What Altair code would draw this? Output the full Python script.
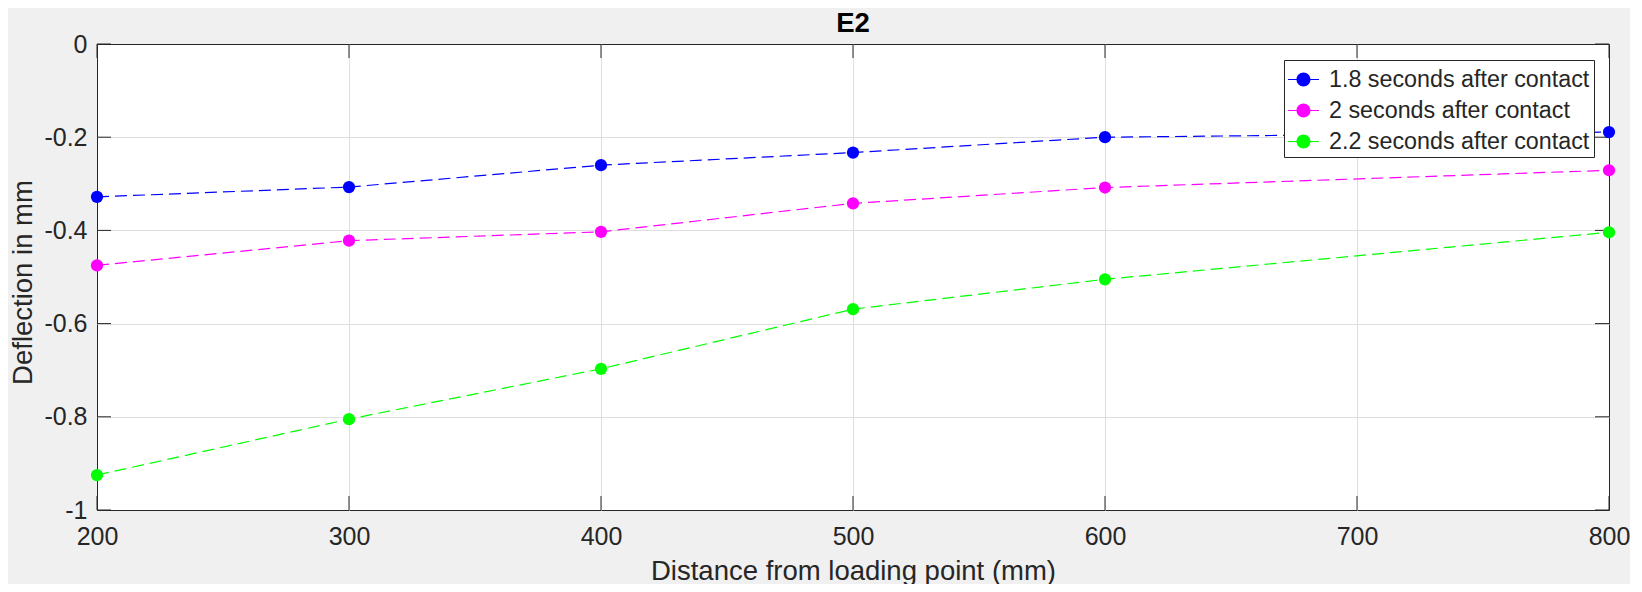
import altair as alt
import pandas as pd

# ---- data ----
chart_title = "E2"
distance = [200, 300, 400, 500, 600, 800]
series_names = ["1.8 seconds after contact", "2 seconds after contact", "2.2 seconds after contact"]
defl_1_8 = [-0.328, -0.307, -0.260, -0.233, -0.200, -0.189]
defl_2_0 = [-0.475, -0.422, -0.403, -0.342, -0.308, -0.271]
defl_2_2 = [-0.925, -0.805, -0.697, -0.569, -0.505, -0.404]
series_colors = ["#0000ff", "#ff00ff", "#00ff00"]
x_ticks = [200, 300, 400, 500, 600, 700, 800]
y_ticks = [0, -0.2, -0.4, -0.6, -0.8, -1]

rows = []
for name, vals in zip(series_names, [defl_1_8, defl_2_0, defl_2_2]):
    for d, v in zip(distance, vals):
        rows.append({"distance": d, "deflection": v, "series": name})
df = pd.DataFrame(rows)
xt = pd.DataFrame({"distance": x_ticks})
yt = pd.DataFrame({"deflection": y_ticks})

W, H = 1512, 466
FONT = "Liberation Sans"
TXT = "#262626"
TICK_LEN = 14

xs = alt.Scale(domain=[200, 800], nice=False, zero=False)
ys = alt.Scale(domain=[-1, 0], nice=False, zero=False)
cs = alt.Scale(domain=series_names, range=series_colors)

xaxis = alt.Axis(
    values=x_ticks, title="Distance from loading point (mm)",
    titleFont=FONT, titleFontSize=27.5, titleFontWeight="normal", titleColor=TXT,
    titleX=W / 2, titleY=69, titleBaseline="alphabetic",
    labelFont=FONT, labelFontSize=25, labelColor=TXT, labelPadding=14,
    labelFlush=False, labelOverlap=False, format="d",
    ticks=False, domain=False, grid=True, gridColor="#dedede", gridWidth=1,
    gridOpacity={"condition": {"test": "datum.value <= 200 || datum.value >= 800", "value": 0}, "value": 1},
)
yaxis = alt.Axis(
    values=y_ticks, title="Deflection in mm",
    titleFont=FONT, titleFontSize=27.5, titleFontWeight="normal", titleColor=TXT,
    titleX=-74, titleY=H / 2 + 5, titleBaseline="middle",
    labelFont=FONT, labelFontSize=25, labelColor=TXT, labelPadding=10,
    labelFlush=False, labelOverlap=False,
    labelExpr="datum.value == 0 ? '0' : '-' + format(-datum.value, datum.value <= -1 ? 'd' : '.1f')",
    ticks=False, domain=False, grid=True, gridColor="#dedede", gridWidth=1,
    gridOpacity={"condition": {"test": "datum.value <= -1 || datum.value >= 0", "value": 0}, "value": 1},
)

lines = alt.Chart(df).mark_line(strokeWidth=1.2, strokeDash=[12, 6]).encode(
    x=alt.X("distance:Q", scale=xs, axis=xaxis),
    y=alt.Y("deflection:Q", scale=ys, axis=yaxis),
    stroke=alt.Stroke("series:N", scale=cs, legend=None),
)

legend_symbol = (
    "M-1,-0.04L-0.45,-0.04L-0.45,0.04L-1,0.04Z "
    "M0.45,-0.04L1,-0.04L1,0.04L0.45,0.04Z "
    "M0.45,0A0.45,0.45 0 1,1 -0.45,0A0.45,0.45 0 1,1 0.45,0Z"
)

points = alt.Chart(df).mark_point(filled=True, shape="circle", size=150, opacity=1).encode(
    x=alt.X("distance:Q", scale=xs, axis=xaxis),
    y=alt.Y("deflection:Q", scale=ys, axis=yaxis),
    color=alt.Color(
        "series:N", scale=cs,
        legend=alt.Legend(
            title=None, orient="none", legendX=1187, legendY=16,
            symbolType=legend_symbol, symbolSize=961, symbolStrokeWidth=0,
            labelFont=FONT, labelFontSize=23.3, labelColor=TXT, labelOffset=10,
            labelLimit=600, rowPadding=4, padding=4,
            strokeColor=TXT, fillColor="white", cornerRadius=0,
        ),
    ),
)

tick_x_bottom = alt.Chart(xt).mark_rule(color=TXT, strokeWidth=1).encode(
    x=alt.X("distance:Q", scale=xs), y=alt.value(H), y2=alt.value(H - TICK_LEN)
)
tick_x_top = alt.Chart(xt).mark_rule(color=TXT, strokeWidth=1).encode(
    x=alt.X("distance:Q", scale=xs), y=alt.value(0), y2=alt.value(TICK_LEN)
)
tick_y_left = alt.Chart(yt).mark_rule(color=TXT, strokeWidth=1).encode(
    y=alt.Y("deflection:Q", scale=ys), x=alt.value(0), x2=alt.value(TICK_LEN)
)
tick_y_right = alt.Chart(yt).mark_rule(color=TXT, strokeWidth=1).encode(
    y=alt.Y("deflection:Q", scale=ys), x=alt.value(W - TICK_LEN), x2=alt.value(W)
)

title_mark = alt.Chart(pd.DataFrame({"t": [chart_title]})).mark_text(
    font=FONT, fontSize=27.5, fontWeight="bold", color="#000000",
    align="center", baseline="alphabetic",
).encode(text="t:N", x=alt.value(W / 2), y=alt.value(-12))

chart = alt.layer(
    tick_x_bottom, tick_x_top, tick_y_left, tick_y_right, lines, points, title_mark
).resolve_scale(
    color="independent", stroke="independent"
).properties(
    width=W, height=H,
    background="#f0f0f0",
    autosize=alt.AutoSizeParams(type="none"),
    padding={"left": 89, "top": 36, "right": 21, "bottom": 74},
).configure_view(fill="white", stroke=TXT, strokeWidth=1)

chart.save("out.html", embed_options={"renderer": "svg", "actions": False})
